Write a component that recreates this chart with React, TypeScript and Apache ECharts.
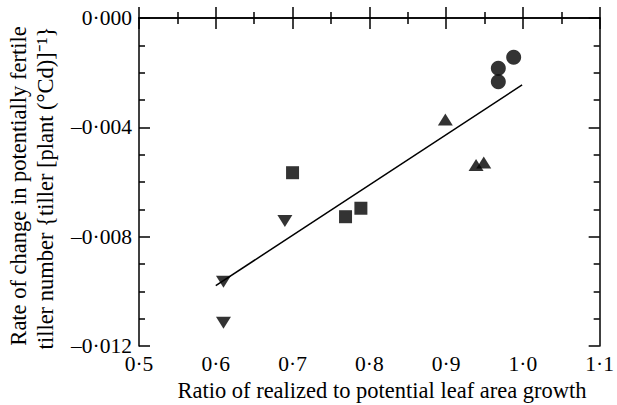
import React, { useEffect, useRef } from "react";
import * as echarts from "echarts";

const circles: number[][] = [[0.968, -0.00184], [0.968, -0.00233], [0.988, -0.00144]];
const trianglesUp: number[][] = [[0.899, -0.00371], [0.939, -0.00538], [0.949, -0.00529]];
const squares: number[][] = [[0.700, -0.00566], [0.769, -0.00727], [0.789, -0.00696]];
const trianglesDown: number[][] = [[0.610, -0.00965], [0.690, -0.00743], [0.610, -0.01115]];
const fitLine: number[][] = [[0.600, -0.00979], [0.999, -0.00245]];

const xTitle = "Ratio of realized to potential leaf area growth";
const yTitle1 = "Rate of change in potentially fertile";
const yTitle2 = "tiller number {tiller [plant (°Cd)]⁻¹}";

const FONT = '"Liberation Serif", "Times New Roman", serif';

export default function App() {
  const ref = useRef<HTMLDivElement>(null);
  useEffect(() => {
    if (!ref.current) return;
    const chart = echarts.init(ref.current, undefined, { renderer: "svg" });
    const lineStyle = { color: "#000", width: 1.5 };
    const tick = { show: true, inside: true, length: 11, lineStyle };
    const fmtX = (v: number) => v.toFixed(1).replace(".", "·");
    const fmtY = (v: number) => {
      const s = Math.abs(v).toFixed(3).replace(".", "·");
      return v < -1e-9 ? "–" + s : s;
    };
    const label = { color: "#000", fontFamily: FONT, fontSize: 21.5 };
    chart.setOption({
      animation: false,
      backgroundColor: "#fff",
      grid: { left: 139, top: 18, width: 462, height: 328, containLabel: false },
      xAxis: [
        {
          type: "value", min: 0.5, max: 1.1, interval: 0.1, position: "bottom",
          axisLine: { show: true, lineStyle }, axisTick: tick,
          minorTick: { show: true, splitNumber: 2, length: 6, lineStyle },
          splitLine: { show: false }, minorSplitLine: { show: false },
          axisLabel: { ...label, margin: 7, formatter: fmtX },
        },
        {
          type: "value", min: 0.5, max: 1.1, interval: 0.1, position: "top",
          axisLine: { show: true, lineStyle }, axisTick: tick,
          minorTick: { show: true, splitNumber: 2, length: 6, lineStyle },
          splitLine: { show: false }, axisLabel: { show: false },
        },
      ],
      yAxis: [
        {
          type: "value", min: -0.012, max: 0, interval: 0.004, position: "left",
          axisLine: { show: true, lineStyle }, axisTick: tick,
          minorTick: { show: true, splitNumber: 4, length: 6, lineStyle },
          splitLine: { show: false }, minorSplitLine: { show: false },
          axisLabel: { ...label, margin: 7, formatter: fmtY },
        },
        {
          type: "value", min: -0.012, max: 0, interval: 0.004, position: "right",
          axisLine: { show: true, lineStyle }, axisTick: tick,
          minorTick: { show: true, splitNumber: 4, length: 6, lineStyle },
          splitLine: { show: false }, axisLabel: { show: false },
        },
      ],
      graphic: [
        {
          type: "text", x: 382, y: 390,
          style: { text: xTitle, font: `22.5px ${FONT}`, fill: "#000", textAlign: "center", textVerticalAlign: "middle" },
        },
        {
          type: "text", x: 18, y: 186, rotation: Math.PI / 2,
          style: { text: yTitle1, font: `22.5px ${FONT}`, fill: "#000", textAlign: "center", textVerticalAlign: "middle" },
        },
        {
          type: "text", x: 45, y: 188, rotation: Math.PI / 2,
          style: { text: yTitle2, font: `22.5px ${FONT}`, fill: "#000", textAlign: "center", textVerticalAlign: "middle" },
        },
      ],
      series: [
        {
          type: "line", data: fitLine, symbol: "none", xAxisIndex: 0, yAxisIndex: 0,
          lineStyle: { color: "#000", width: 1.5 },
        },
        { type: "scatter", data: circles, symbol: "circle", symbolSize: 15, itemStyle: { color: "#000" } },
        { type: "scatter", data: trianglesUp, symbol: "triangle", symbolSize: [15, 12], itemStyle: { color: "#000" } },
        { type: "scatter", data: squares, symbol: "rect", symbolSize: 13, itemStyle: { color: "#000" } },
        { type: "scatter", data: trianglesDown, symbol: "triangle", symbolRotate: 180, symbolSize: [15, 12], itemStyle: { color: "#000" } },
      ],
    });
    return () => chart.dispose();
  }, []);
  return <div ref={ref} style={{ position: "fixed", left: 0, top: 0, width: 617, height: 405 }} />;
}
